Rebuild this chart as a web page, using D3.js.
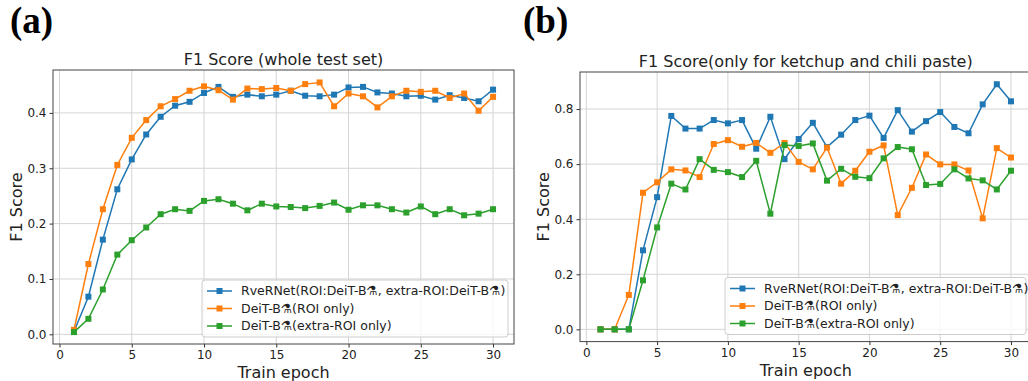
<!DOCTYPE html>
<html>
<head>
<meta charset="utf-8">
<script src="https://cdn.jsdelivr.net/npm/d3@7"></script>
<style>
  body { margin: 0; background: #fff; }
  svg { display: block; font-family: "DejaVu Sans", sans-serif; }
</style>
</head>
<body>
<svg id="chart" width="1028" height="381"></svg>
<script>
// epochs 1..30
const epochs = d3.range(1, 31)

// (a) whole test set
const wholeRveR = [0.005, 0.068, 0.171, 0.262, 0.316, 0.361, 0.393, 0.413, 0.420, 0.436,
  0.447, 0.429, 0.433, 0.430, 0.433, 0.440, 0.431, 0.430, 0.433, 0.446,
  0.447, 0.437, 0.435, 0.430, 0.431, 0.424, 0.432, 0.427, 0.421, 0.442]
const wholeRoi = [0.008, 0.127, 0.226, 0.306, 0.355, 0.387, 0.412, 0.425, 0.440, 0.448,
  0.441, 0.424, 0.444, 0.443, 0.445, 0.440, 0.452, 0.455, 0.412, 0.435,
  0.430, 0.410, 0.430, 0.440, 0.438, 0.440, 0.427, 0.435, 0.404, 0.429]
const wholeExtra = [0.004, 0.028, 0.081, 0.144, 0.170, 0.193, 0.217, 0.226, 0.223, 0.241,
  0.244, 0.236, 0.224, 0.236, 0.231, 0.230, 0.228, 0.232, 0.238, 0.225,
  0.233, 0.233, 0.226, 0.220, 0.231, 0.217, 0.226, 0.215, 0.218, 0.226]

// (b) ketchup and chili paste only
const ketRveR = [0, 0, 0, 0.287, 0.480, 0.775, 0.729, 0.729, 0.760, 0.748,
  0.760, 0.656, 0.772, 0.618, 0.691, 0.750, 0.662, 0.707, 0.760, 0.776,
  0.695, 0.796, 0.718, 0.756, 0.789, 0.735, 0.712, 0.817, 0.890, 0.828]
const ketRoi = [0, 0, 0.125, 0.496, 0.534, 0.581, 0.577, 0.553, 0.673, 0.687,
  0.663, 0.677, 0.641, 0.677, 0.608, 0.581, 0.660, 0.529, 0.576, 0.645,
  0.668, 0.415, 0.514, 0.635, 0.599, 0.599, 0.577, 0.403, 0.658, 0.624]
const ketExtra = [0, 0, 0, 0.178, 0.370, 0.529, 0.508, 0.618, 0.579, 0.571,
  0.553, 0.612, 0.420, 0.669, 0.666, 0.675, 0.540, 0.583, 0.554, 0.549,
  0.621, 0.662, 0.654, 0.524, 0.528, 0.581, 0.548, 0.541, 0.508, 0.576]

const seriesNames = [
  'RveRNet(ROI:DeiT-B\u2697, extra-ROI:DeiT-B\u2697)',
  'DeiT-B\u2697(ROI only)',
  'DeiT-B\u2697(extra-ROI only)'
]
const seriesColors = ['#1f77b4', '#ff7f0e', '#2ca02c']

const xTicks = [0, 5, 10, 15, 20, 25, 30]
const yTicksA = [0.0, 0.1, 0.2, 0.3, 0.4]
const yTicksB = [0.0, 0.2, 0.4, 0.6, 0.8]

const svg = d3.select('#chart')

function drawPanel(p) {
  const g = svg.append('g')
  const x = d3.scaleLinear().domain([-0.45, 31.45]).range([p.left, p.right])
  const y = d3.scaleLinear().domain(p.yDomain).range([p.bottom, p.top])

  // grid
  g.selectAll('.gx').data(xTicks).enter().append('line')
    .attr('x1', d => x(d)).attr('x2', d => x(d))
    .attr('y1', p.top).attr('y2', p.bottom)
    .attr('stroke', '#d4d4d4').attr('stroke-width', 1)
  g.selectAll('.gy').data(p.yTicks).enter().append('line')
    .attr('x1', p.left).attr('x2', p.right)
    .attr('y1', d => y(d)).attr('y2', d => y(d))
    .attr('stroke', '#d4d4d4').attr('stroke-width', 1)

  // axes
  const ax = g.append('g').attr('transform', `translate(0,${p.bottom})`)
    .call(d3.axisBottom(x).tickValues(xTicks).tickFormat(d3.format('d')).tickSize(3.5).tickPadding(3))
  const ay = g.append('g').attr('transform', `translate(${p.left},0)`)
    .call(d3.axisLeft(y).tickValues(p.yTicks).tickFormat(d3.format('.1f')).tickSize(3.5).tickPadding(3))
  for (const a of [ax, ay]) {
    a.select('.domain').remove()
    a.selectAll('text').attr('font-size', 12).attr('fill', '#222')
      .attr('font-family', '"DejaVu Sans", sans-serif')
    a.selectAll('line').attr('stroke', '#333')
  }

  // lines + markers
  const line = d3.line().x((d, i) => x(epochs[i])).y(d => y(d))
  p.series.forEach((s, k) => {
    g.append('path').datum(s).attr('d', line)
      .attr('fill', 'none').attr('stroke', seriesColors[k]).attr('stroke-width', 1.5)
    g.selectAll(null).data(s).enter().append('rect')
      .attr('x', (d, i) => x(epochs[i]) - 3).attr('y', d => y(d) - 3)
      .attr('width', 6).attr('height', 6).attr('fill', seriesColors[k])
  })

  // frame
  g.append('rect').attr('x', p.left).attr('y', p.top)
    .attr('width', p.right - p.left).attr('height', p.bottom - p.top)
    .attr('fill', 'none').attr('stroke', '#444').attr('stroke-width', 1)

  // legend
  const lg = g.append('g').attr('transform', `translate(${p.legX},${p.legY})`)
  lg.append('rect').attr('width', p.legW).attr('height', 57).attr('rx', 3)
    .attr('fill', '#fff').attr('fill-opacity', 0.8).attr('stroke', '#ccc')
  seriesNames.forEach((n, k) => {
    const cy = 11 + k * 17.5
    lg.append('line').attr('x1', 5).attr('x2', 30).attr('y1', cy).attr('y2', cy)
      .attr('stroke', seriesColors[k]).attr('stroke-width', 1.5)
    lg.append('rect').attr('x', 14.5).attr('y', cy - 3).attr('width', 6).attr('height', 6)
      .attr('fill', seriesColors[k])
    lg.append('text').attr('x', 39).attr('y', cy).attr('dy', '0.35em')
      .attr('font-size', 12.5).attr('fill', '#222').text(n)
  })

  // titles
  const cx = (p.left + Math.min(p.right, p.right)) / 2
  g.append('text').attr('x', cx).attr('y', p.top - 5).attr('text-anchor', 'middle')
    .attr('font-size', 16).attr('fill', '#222').text(p.title)
  g.append('text').attr('x', cx).attr('y', p.bottom + 34).attr('text-anchor', 'middle')
    .attr('font-size', 16).attr('fill', '#222').text('Train epoch')
  g.append('text').attr('transform', `translate(${p.left - 31},${(p.top + p.bottom) / 2}) rotate(-90)`)
    .attr('text-anchor', 'middle').attr('font-size', 16).attr('fill', '#222').text('F1 Score')
  svg.append('text').attr('x', p.tagX).attr('y', 33)
    .attr('font-family', '"Liberation Serif", "Times New Roman", serif')
    .attr('font-weight', 'bold').attr('font-size', 37).attr('fill', '#000').text(p.tag)
}

drawPanel({
  left: 53, right: 514, top: 70, bottom: 344,
  yDomain: [-0.0175, 0.4775], yTicks: yTicksA,
  series: [wholeRveR, wholeRoi, wholeExtra],
  title: 'F1 Score (whole test set)', tag: '(a)', tagX: 10,
  legX: 202, legY: 280, legW: 306
})
drawPanel({
  left: 580, right: 1031.5, top: 72, bottom: 341.6,
  yDomain: [-0.0445, 0.9345], yTicks: yTicksB,
  series: [ketRveR, ketRoi, ketExtra],
  title: 'F1 Score(only for ketchup and chili paste)', tag: '(b)', tagX: 523,
  legX: 725, legY: 277.5, legW: 301
})
</script>
</body>
</html>
